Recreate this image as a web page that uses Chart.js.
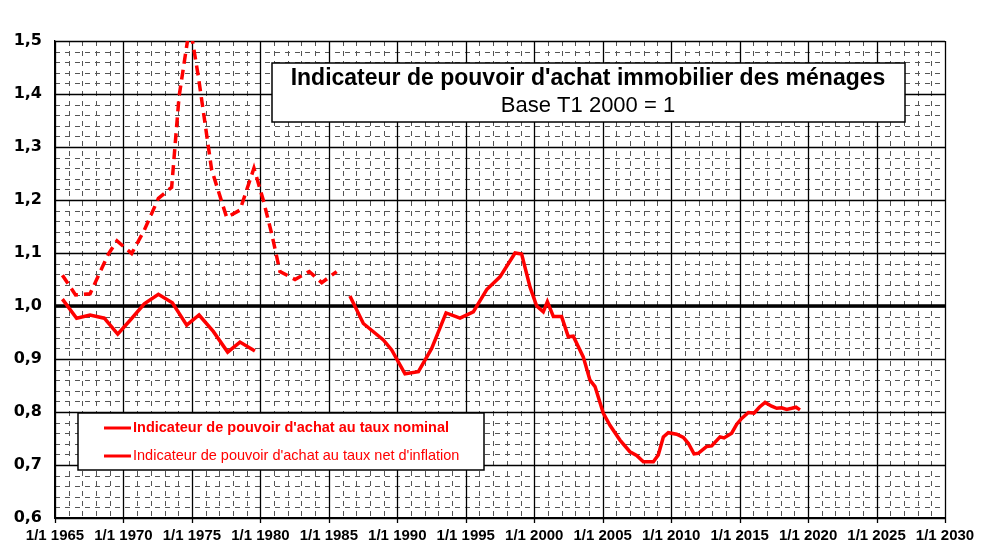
<!DOCTYPE html>
<html>
<head>
<meta charset="utf-8">
<script src="https://cdn.jsdelivr.net/npm/chart.js@4.4.1/dist/chart.umd.min.js"></script>
<style>
  html, body { margin: 0; padding: 0; background: #fff; }
  #wrap { width: 988px; height: 550px; }
</style>
</head>
<body>
<div id="wrap"><canvas id="chart"></canvas></div>
<script>
// dashed series, 1965-1986
const netYears = [1965.54, 1966.5, 1967.56, 1968.9, 1969.53, 1970.6, 1971.52, 1972.55, 1973.52, 1974.06, 1974.85, 1975.47, 1976.44, 1977.54, 1978.51, 1979.53, 1980.21, 1980.82, 1981.43, 1982.53, 1983.57, 1984.48, 1985.57];
const netValues = [1.058, 1.021, 1.023, 1.098, 1.123, 1.099, 1.143, 1.203, 1.224, 1.395, 1.53, 1.433, 1.257, 1.167, 1.181, 1.26, 1.2, 1.137, 1.065, 1.05, 1.065, 1.044, 1.065];

// solid series, 1965-1979
const nominalYears = [1965.54, 1966.58, 1967.56, 1968.6, 1969.58, 1970.55, 1971.52, 1972.55, 1973.57, 1974.62, 1975.52, 1976.56, 1977.61, 1978.51, 1979.6];
const nominalValues = [1.013, 0.977, 0.983, 0.977, 0.947, 0.975, 1.004, 1.022, 1.006, 0.964, 0.983, 0.952, 0.913, 0.932, 0.915];

// solid series, 1986-2019
const recentYears = [1986.54, 1987.52, 1988.98, 1989.59, 1990.56, 1991.54, 1992.51, 1993.56, 1994.58, 1995.55, 1996.53, 1997.5, 1998.6, 1999.08, 1999.7, 2000.18, 2000.66, 2000.96, 2001.4, 2002.0, 2002.49, 2002.85, 2003.58, 2004.07, 2004.44, 2005.04, 2005.53, 2006.26, 2006.99, 2007.48, 2007.97, 2008.7, 2009.06, 2009.43, 2009.79, 2010.4, 2010.89, 2011.25, 2011.67, 2011.98, 2012.6, 2012.96, 2013.57, 2013.86, 2014.42, 2014.79, 2015.15, 2015.64, 2016.05, 2016.44, 2016.86, 2017.34, 2017.71, 2018.07, 2018.44, 2018.8, 2019.12, 2019.41];
const recentValues = [1.019, 0.967, 0.936, 0.917, 0.872, 0.876, 0.92, 0.987, 0.977, 0.989, 1.031, 1.055, 1.1, 1.098, 1.035, 1.0, 0.989, 1.008, 0.98, 0.98, 0.942, 0.943, 0.904, 0.86, 0.848, 0.798, 0.775, 0.747, 0.725, 0.718, 0.706, 0.706, 0.719, 0.753, 0.761, 0.758, 0.752, 0.741, 0.721, 0.722, 0.735, 0.736, 0.753, 0.751, 0.76, 0.777, 0.788, 0.799, 0.798, 0.809, 0.818, 0.811, 0.807, 0.808, 0.805, 0.807, 0.809, 0.804];

const legendLabels = ["Indicateur de pouvoir d'achat au taux nominal", "Indicateur de pouvoir d'achat au taux net d'inflation"];
const titleLines = ["Indicateur de pouvoir d'achat immobilier des ménages", "Base T1 2000 = 1"];

function toPoints(xs, ys) {
  return xs.map((x, i) => ({ x: x, y: ys[i] }));
}

// fit a string into a given width by shrinking the font
function fitFont(ctx, text, weight, size, family, maxWidth) {
  let s = size;
  ctx.font = `${weight} ${s}px ${family}`;
  while (ctx.measureText(text).width > maxWidth && s > 8) {
    s -= 0.5;
    ctx.font = `${weight} ${s}px ${family}`;
  }
}

const gridPlugin = {
  id: "grid",
  beforeDatasetsDraw(chart) {
    const { ctx, chartArea: a, scales: { x, y } } = chart;
    ctx.save();
    // minor dashed lines
    ctx.strokeStyle = "#555";
    ctx.lineWidth = 1;
    ctx.setLineDash([5, 5]);
    for (let yr = 1966; yr < 2030; yr++) {
      if (yr % 5 === 0) continue;
      const px = Math.round(x.getPixelForValue(yr)) + 0.5;
      ctx.beginPath();
      ctx.moveTo(px, a.top);
      ctx.lineTo(px, a.bottom);
      ctx.stroke();
    }
    for (let k = 31; k < 75; k++) {
      if (k % 5 === 0) continue;
      const py = Math.round(y.getPixelForValue(k / 50)) + 0.5;
      ctx.beginPath();
      ctx.moveTo(a.left, py);
      ctx.lineTo(a.right, py);
      ctx.stroke();
    }
    // major solid lines
    ctx.setLineDash([]);
    ctx.strokeStyle = "#000";
    ctx.lineWidth = 1.3;
    for (let yr = 1965; yr <= 2030; yr += 5) {
      const px = Math.round(x.getPixelForValue(yr)) + 0.5;
      ctx.beginPath();
      ctx.moveTo(px, a.top);
      ctx.lineTo(px, a.bottom + 5);
      ctx.stroke();
    }
    for (let k = 6; k <= 15; k++) {
      const py = Math.round(y.getPixelForValue(k / 10)) + 0.5;
      ctx.beginPath();
      ctx.moveTo(a.left, py);
      ctx.lineTo(a.right, py);
      ctx.stroke();
    }
    // reference line at 1
    ctx.lineWidth = 3.5;
    const p1 = y.getPixelForValue(1);
    ctx.beginPath();
    ctx.moveTo(a.left, p1);
    ctx.lineTo(a.right, p1);
    ctx.stroke();
    ctx.restore();
  },
  afterDraw(chart) {
    const ctx = chart.ctx;
    ctx.save();
    // title box
    ctx.fillStyle = "#fff";
    ctx.strokeStyle = "#000";
    ctx.lineWidth = 1.5;
    ctx.fillRect(272, 63, 633, 59);
    ctx.strokeRect(272, 63, 633, 59);
    ctx.fillStyle = "#000";
    ctx.textAlign = "center";
    ctx.textBaseline = "middle";
    fitFont(ctx, titleLines[0], "bold", 23, "'Liberation Sans', Arial, sans-serif", 622);
    ctx.fillText(titleLines[0], 588, 79);
    ctx.font = "22px 'Liberation Sans', Arial, sans-serif";
    ctx.fillText(titleLines[1], 588, 106);

    // legend box
    ctx.fillStyle = "#fff";
    ctx.fillRect(78, 413, 406, 57);
    ctx.strokeRect(78, 413, 406, 57);
    ctx.textAlign = "left";
    const rows = [428, 456];
    const widths = [320, 330];
    const weights = ["bold", "normal"];
    rows.forEach((ry, i) => {
      ctx.strokeStyle = "#ff0000";
      ctx.lineWidth = 3;
      ctx.beginPath();
      ctx.moveTo(104, ry);
      ctx.lineTo(131, ry);
      ctx.stroke();
      ctx.fillStyle = "#ff0000";
      fitFont(ctx, legendLabels[i], weights[i], 15, "'Liberation Sans', Arial, sans-serif", widths[i]);
      ctx.fillText(legendLabels[i], 133, ry);
    });
    ctx.restore();
  }
};

new Chart(document.getElementById("chart"), {
  type: "line",
  data: {
    datasets: [
      {
        data: toPoints(netYears, netValues),
        borderColor: "#ff0000",
        borderWidth: 3.5,
        borderDash: [10, 6],
        pointRadius: 0,
        tension: 0
      },
      {
        data: toPoints(nominalYears, nominalValues),
        borderColor: "#ff0000",
        borderWidth: 3.5,
        pointRadius: 0,
        tension: 0
      },
      {
        data: toPoints(recentYears, recentValues),
        borderColor: "#ff0000",
        borderWidth: 3.5,
        pointRadius: 0,
        tension: 0
      }
    ]
  },
  options: {
    responsive: true,
    maintainAspectRatio: false,
    animation: false,
    layout: { padding: { top: 41, right: 43, left: 0, bottom: 0 } },
    plugins: {
      legend: { display: false },
      tooltip: { enabled: false }
    },
    scales: {
      x: {
        type: "linear",
        min: 1965,
        max: 2030,
        afterFit: s => { s.height = 32; },
        grid: { display: false, drawTicks: false },
        border: { display: true, color: "#000", width: 1.3 },
        ticks: {
          stepSize: 5,
          padding: 9,
          maxRotation: 0,
          autoSkip: false,
          color: "#000",
          font: { family: "'Liberation Sans', Arial, sans-serif", weight: "bold", size: 15 },
          callback: v => "1/1 " + v
        }
      },
      y: {
        min: 0.6,
        max: 1.5,
        afterFit: s => { s.width = 55; },
        grid: { display: false, drawTicks: false },
        border: { display: true, color: "#000", width: 1.3 },
        ticks: {
          stepSize: 0.1,
          padding: 13,
          color: "#000",
          font: { family: "'DejaVu Sans', sans-serif", weight: "bold", size: 16 },
          callback: v => v.toFixed(1).replace(".", ",")
        }
      }
    }
  },
  plugins: [gridPlugin]
});
</script>
</body>
</html>
